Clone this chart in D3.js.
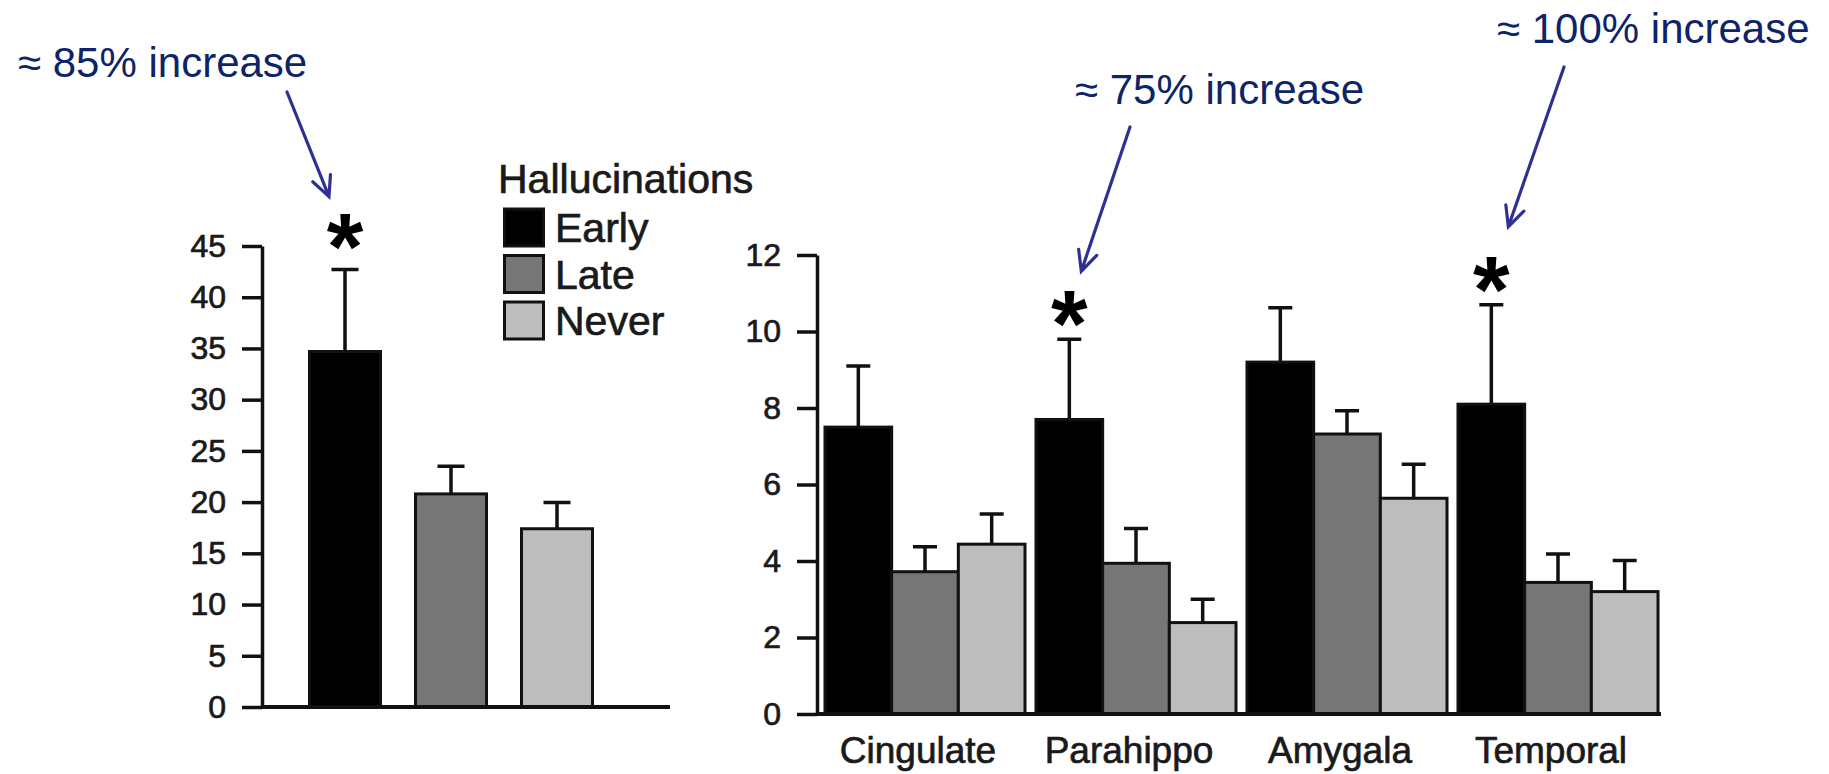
<!DOCTYPE html>
<html>
<head>
<meta charset="utf-8">
<script src="https://cdn.jsdelivr.net/npm/d3@7"></script>
<style>
  body { margin: 0; background: #fff; }
  svg { display: block; }
  .axis text { font-family: "Liberation Sans", Arial, sans-serif; font-size: 32px; fill: #1a1a1a; stroke: #1a1a1a; stroke-width: 0.7px; }
  .axis path, .axis line { stroke: #111; stroke-width: 3.5px; }
  .label { font-family: "Liberation Sans", Arial, sans-serif; fill: #1a1a1a; stroke: #1a1a1a; stroke-width: 0.7px; }
  .note { font-family: "Liberation Sans", Arial, sans-serif; font-size: 42px; fill: #0d2467; }
</style>
</head>
<body>
<svg id="chart"></svg>
<script>
// Hallucination onset groups
const groups = ['Early', 'Late', 'Never'];
const groupColors = ['#000000', '#767676', '#bdbdbd'];

// Left panel: total
const totalMeans = [34.7, 20.8, 17.4];
const totalErrors = [8.0, 2.7, 2.55];
const totalStars = [true, false, false];
const totalTicks = [0, 5, 10, 15, 20, 25, 30, 35, 40, 45];

// Right panel: regions
const regions = ['Cingulate', 'Parahippo', 'Amygala', 'Temporal'];
const earlyMeans = [7.5, 7.7, 9.2, 8.1];
const earlyErrors = [1.6, 2.1, 1.42, 2.6];
const lateMeans = [3.72, 3.94, 7.32, 3.44];
const lateErrors = [0.65, 0.91, 0.61, 0.74];
const neverMeans = [4.44, 2.39, 5.64, 3.2];
const neverErrors = [0.79, 0.61, 0.89, 0.81];
const regionStars = [false, true, false, true];
const regionTicks = [0, 2, 4, 6, 8, 10, 12];

const notes = ['≈ 85% increase', '≈ 75% increase', '≈ 100% increase'];

const W = 1829, H = 774;
const svg = d3.select('#chart').attr('width', W).attr('height', H);

// straight arrow with an open head, drawn as a path
function arrow(x1, y1, x2, y2) {
  const a = Math.atan2(y2 - y1, x2 - x1), len = 22, spread = Math.PI / 7;
  const p1 = [x2 - len * Math.cos(a - spread), y2 - len * Math.sin(a - spread)];
  const p2 = [x2 - len * Math.cos(a + spread), y2 - len * Math.sin(a + spread)];
  svg.append('path')
    .attr('d', `M${x1},${y1}L${x2},${y2}M${p1[0]},${p1[1]}L${x2},${y2}L${p2[0]},${p2[1]}`)
    .attr('fill', 'none')
    .attr('stroke', '#2e3192')
    .attr('stroke-width', 3.2)
    .attr('stroke-linecap', 'round');
}

function drawErrors(g, rows, yScale, capW) {
  g.selectAll('.err')
    .data(rows)
    .enter().append('path')
    .attr('class', 'err')
    .attr('d', d => {
      const top = yScale(d.mean + d.err), base = yScale(d.mean);
      return `M${d.cx},${base}V${top}M${d.cx - capW / 2},${top}H${d.cx + capW / 2}`;
    })
    .attr('fill', 'none')
    .attr('stroke', '#111')
    .attr('stroke-width', 3.5);
}

function drawStars(g, rows, yScale, gap) {
  g.selectAll('.star')
    .data(rows.filter(d => d.star))
    .enter().append('text')
    .attr('class', 'star')
    .attr('x', d => d.cx)
    .attr('y', d => yScale(d.mean + d.err) - gap + 37)
    .attr('text-anchor', 'middle')
    .style('font-family', '"Liberation Sans", Arial, sans-serif')
    .style('font-size', '94px')
    .style('font-weight', 'bold')
    .style('fill', '#000')
    .text('*');
}

// ---------- Left panel ----------
const yL = d3.scaleLinear().domain([0, 45]).range([707, 246]);
const xL = d3.scaleBand().domain(groups).range([292, 610]).paddingInner(0.33).paddingOuter(0.165);

const left = svg.append('g');
const leftRows = groups.map((k, i) => ({
  key: k, mean: totalMeans[i], err: totalErrors[i], star: totalStars[i],
  x: xL(k), w: xL.bandwidth(), cx: xL(k) + xL.bandwidth() / 2, color: groupColors[i]
}));

left.selectAll('.bar')
  .data(leftRows)
  .enter().append('rect')
  .attr('class', 'bar')
  .attr('x', d => d.x)
  .attr('y', d => yL(d.mean))
  .attr('width', d => d.w)
  .attr('height', d => yL(0) - yL(d.mean))
  .attr('fill', d => d.color)
  .attr('stroke', '#111')
  .attr('stroke-width', 3);

drawErrors(left, leftRows, yL, 27);
drawStars(left, leftRows, yL, 28);

left.append('g')
  .attr('class', 'axis')
  .attr('transform', 'translate(262,0)')
  .call(d3.axisLeft(yL).tickValues(totalTicks).tickSize(20).tickSizeOuter(0).tickPadding(16));

left.append('line')
  .attr('x1', 262).attr('x2', 670)
  .attr('y1', yL(0)).attr('y2', yL(0))
  .attr('stroke', '#111').attr('stroke-width', 4);

// legend
const legend = svg.append('g').attr('transform', 'translate(503,0)');
legend.append('text')
  .attr('class', 'label')
  .attr('x', -5).attr('y', 193)
  .style('font-size', '41px')
  .text('Hallucinations');
groups.forEach((k, i) => {
  const top = 209 + i * 46.5;
  legend.append('rect')
    .attr('x', 1.5).attr('y', top)
    .attr('width', 39).attr('height', 37)
    .attr('fill', groupColors[i])
    .attr('stroke', '#111').attr('stroke-width', 3);
  legend.append('text')
    .attr('class', 'label')
    .attr('x', 52).attr('y', top + 33)
    .style('font-size', '41px')
    .text(k);
});

// ---------- Right panel ----------
const yR = d3.scaleLinear().domain([0, 12]).range([714, 255]);
const xR = d3.scaleBand().domain(regions).range([819.5, 1663.5]).paddingInner(0.052).paddingOuter(0.026);
const xSub = d3.scaleBand().domain(groups).range([0, xR.bandwidth()]).padding(0);

const seriesMeans = [earlyMeans, lateMeans, neverMeans];
const seriesErrors = [earlyErrors, lateErrors, neverErrors];

const right = svg.append('g');
const rightRows = [];
regions.forEach((r, ri) => {
  groups.forEach((k, gi) => {
    const x = xR(r) + xSub(k);
    rightRows.push({
      region: r, key: k, mean: seriesMeans[gi][ri], err: seriesErrors[gi][ri],
      star: gi === 0 && regionStars[ri],
      x: x, w: xSub.bandwidth(), cx: x + xSub.bandwidth() / 2, color: groupColors[gi]
    });
  });
});

right.selectAll('.bar')
  .data(rightRows)
  .enter().append('rect')
  .attr('class', 'bar')
  .attr('x', d => d.x)
  .attr('y', d => yR(d.mean))
  .attr('width', d => d.w)
  .attr('height', d => yR(0) - yR(d.mean))
  .attr('fill', d => d.color)
  .attr('stroke', '#111')
  .attr('stroke-width', 3);

drawErrors(right, rightRows, yR, 24);
drawStars(right, rightRows, yR, 20);

right.append('g')
  .attr('class', 'axis')
  .attr('transform', 'translate(817,0)')
  .call(d3.axisLeft(yR).tickValues(regionTicks).tickSize(20).tickSizeOuter(0).tickPadding(16));

right.append('line')
  .attr('x1', 817).attr('x2', 1661)
  .attr('y1', yR(0)).attr('y2', yR(0))
  .attr('stroke', '#111').attr('stroke-width', 4);

right.selectAll('.region')
  .data(regions)
  .enter().append('text')
  .attr('class', 'label region')
  .attr('x', d => xR(d) + xR.bandwidth() / 2 - 7)
  .attr('y', 763)
  .attr('text-anchor', 'middle')
  .style('font-size', '37px')
  .text(d => d);

// ---------- Annotations ----------
// text position, arrow tail offset from text, arrow tip offset from error bar top
const leftEarly = leftRows[0];
const paraEarly = rightRows.find(d => d.region === 'Parahippo' && d.key === 'Early');
const tempEarly = rightRows.find(d => d.region === 'Temporal' && d.key === 'Early');
const noteLayout = [
  { x: 18, y: 77, tail: [269, 15], row: leftEarly, ys: yL, tip: [-16, -73] },
  { x: 1075, y: 104, tail: [55, 23], row: paraEarly, ys: yR, tip: [12, -68] },
  { x: 1497, y: 43, tail: [67, 24], row: tempEarly, ys: yR, tip: [17, -78] }
];

noteLayout.forEach((n, i) => {
  svg.append('text')
    .attr('class', 'note')
    .attr('x', n.x).attr('y', n.y)
    .text(notes[i]);
  const tipX = n.row.cx + n.tip[0];
  const tipY = n.ys(n.row.mean + n.row.err) + n.tip[1];
  arrow(n.x + n.tail[0], n.y + n.tail[1], tipX, tipY);
});
</script>
</body>
</html>
